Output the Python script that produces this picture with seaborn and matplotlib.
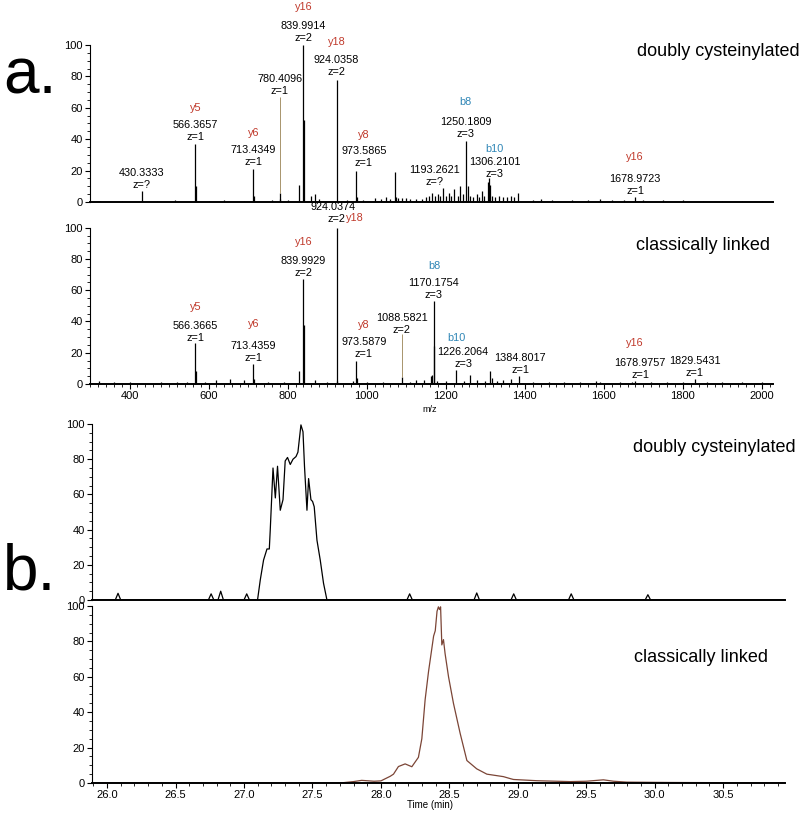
import numpy as np
import matplotlib
matplotlib.use("Agg")
import matplotlib.pyplot as plt
from matplotlib.ticker import MultipleLocator
import seaborn as sns

# ---- spectrum a. top : doubly cysteinylated ----
dc_mz = [325, 380, 430.33, 470, 515, 566.37, 567.4, 600, 640, 690, 713.43, 714.4, 760, 780.41, 781.4,
         800, 828.4, 839.99, 840.99, 858, 870, 880, 924.04, 950, 973.59, 975, 990, 1020, 1035, 1050,
         1060, 1072, 1075, 1080, 1090, 1100, 1110, 1125, 1140, 1150, 1158, 1165, 1172, 1180, 1186,
         1193.26, 1200, 1207, 1214, 1222, 1230, 1236, 1244, 1250.18, 1256, 1262, 1270, 1278, 1285,
         1292, 1298, 1306.21, 1308.5, 1312, 1318, 1325, 1335, 1345, 1355, 1365, 1372, 1384, 1420,
         1440, 1470, 1520, 1560, 1590, 1620, 1650, 1679, 1700, 1750, 1800, 1850, 1900, 1950, 2000]
dc_int = [0.8, 0.6, 7, 0.8, 1.0, 37, 10, 0.7, 1.0, 0.8, 21, 4, 1.0, 6, 2,
          1.5, 11, 100, 52, 3.5, 5, 2, 78, 1.5, 20, 3, 1.5, 2.5, 2, 3,
          2, 19, 3, 2.5, 2.5, 2.5, 2, 2, 2, 3, 4, 6, 4, 5, 3.5,
          9, 4, 6, 4, 8, 3.5, 10, 5, 39, 10, 4, 3, 5, 3,
          7, 4, 13, 15, 11, 4, 3, 3.5, 3, 3, 3.5, 3, 6, 1.5,
          2, 1.5, 1.5, 1.5, 2, 1.2, 1.5, 3, 1, 1, 1, 0.8, 0.8, 0.8, 0.6]

# ---- spectrum a. bottom : classically linked ----
cl_mz = [322, 360, 400, 440, 480, 520, 545, 566.37, 567.4, 590, 620, 655, 690, 713.44, 714.4, 750,
         790, 828.4, 839.99, 840.99, 870, 900, 924.04, 925.04, 965, 973.59, 975, 1000, 1040, 1088.58,
         1110, 1125, 1145, 1162, 1166, 1170.18, 1171.2, 1178, 1200, 1226.21, 1245, 1262, 1280, 1300,
         1312, 1316, 1330, 1345, 1365, 1384.80, 1420, 1460, 1500, 1540, 1580, 1590, 1640, 1670,
         1679, 1720, 1760, 1800, 1829.54, 1860, 1900, 1950, 2000]
cl_int = [2, 1, 1, 0.8, 1.2, 1, 1.5, 26, 8, 1, 2.5, 3.5, 2.5, 13, 3, 1.5,
          1.5, 8, 67, 38, 2.5, 1, 100, 2, 2, 15, 4, 1.5, 1.5, 4.5,
          1.5, 2.5, 2.5, 5, 6, 53, 24, 2, 2, 9, 2, 5.5, 2.5, 2,
          8, 4, 2, 2.5, 3, 5, 1, 1.2, 1, 1, 2, 1.5, 1, 1.5,
          2, 1, 1, 1, 3, 1, 1, 1, 1]

# ---- annotations ----
dc_ann_mass = ['430.3333', '566.3657', '713.4349', '780.4096', '839.9914', '924.0358',
               '973.5865', '1193.2621', '1250.1809', '1306.2101', '1678.9723']
dc_ann_z = ['?', '1', '1', '1', '2', '2', '1', '?', '3', '3', '1']
dc_ann_ion = ['', 'y5', 'y6', '', 'y16', 'y18', 'y8', '', 'b8', 'b10', 'y16']

cl_ann_mass = ['566.3665', '713.4359', '839.9929', '924.0374', '973.5879', '1088.5821',
               '1170.1754', '1226.2064', '1384.8017', '1678.9757', '1829.5431']
cl_ann_z = ['1', '1', '2', '2', '1', '2', '3', '3', '1', '1', '1']
cl_ann_ion = ['y5', 'y6', 'y16', 'y18', 'y8', '', 'b8', 'b10', '', 'y16', '']

# leader lines (label to small peak)
dc_leader = (780.41, 6, 67)
cl_leader = (1088.58, 4.5, 32)

# ---- chromatograms b. ----
t_dc = [25.89, 26.06, 26.08, 26.10, 26.74, 26.76, 26.78, 26.81, 26.83, 26.85, 27.00, 27.02, 27.04,
        27.099, 27.119, 27.143, 27.168, 27.185, 27.192, 27.212, 27.229, 27.245, 27.265, 27.285,
        27.301, 27.318, 27.338, 27.358, 27.380, 27.394, 27.416, 27.431, 27.442, 27.460, 27.472,
        27.489, 27.501, 27.513, 27.533, 27.557, 27.581, 27.606, 28.19, 28.21, 28.23, 28.68, 28.70,
        28.72, 28.95, 28.97, 28.99, 29.37, 29.39, 29.41, 29.93, 29.95, 29.97, 30.95]
i_dc = [0, 0, 3.8, 0, 0, 3.5, 0, 0, 5, 0, 0, 3.5, 0,
        0, 11.4, 22.7, 29, 29, 40, 75, 58, 76, 51, 57,
        79, 81, 77, 80, 81.5, 84, 99.5, 95.6, 76, 51, 69,
        57, 56, 53, 34, 22.7, 9.5, 0, 0, 3.5, 0, 0, 4,
        0, 0, 3.5, 0, 0, 3.5, 0, 0, 3, 0, 0]

t_cl = [25.89, 27.70, 27.80, 27.86, 27.95, 28.00, 28.068, 28.092, 28.128, 28.177, 28.226, 28.274,
        28.299, 28.323, 28.348, 28.385, 28.397, 28.410, 28.420, 28.428, 28.436, 28.445, 28.457,
        28.469, 28.494, 28.53, 28.579, 28.628, 28.70, 28.774, 28.895, 28.944, 28.968, 29.139,
        29.382, 29.50, 29.625, 29.70, 29.796, 30.11, 30.477, 30.95]
i_cl = [0, 0, 0.8, 1.5, 1.0, 1.2, 3.8, 5, 9.3, 10.8, 9.2, 14.5,
        25, 47, 63, 83, 86, 97, 99.5, 98, 99.5, 78, 81,
        73, 60, 45, 28, 12.7, 8, 5, 3.6, 2.5, 2, 1.3,
        0.8, 1.0, 1.8, 1.0, 0.5, 0.3, 0.2, 0.1]

# ---- layout of annotation text (data units) ----
dc_lab_x = [430.33, 566.37, 713.43, 780.41, 839.99, 924.04, 993, 1172, 1250.18, 1324, 1678.97]
dc_lab_y = [18.7, 48.8, 33.1, 78.1, 112.1, 90.4, 32.5, 20.4, 50.7, 25.7, 14.6]
dc_ion_y = [0, 59.7, 44.1, 0, 124.4, 101.7, 42.7, 0, 63.9, 33.6, 28.5]
cl_lab_x = [566.37, 713.44, 839.99, 915, 993, 1088.58, 1170.18, 1244, 1388, 1692, 1829.54]
cl_lab_y = [37.1, 24.5, 78.9, 113, 26.7, 42.4, 64.4, 20.3, 16.4, 13.6, 14.7]
cl_ion_y = [49, 38.4, 91, 106, 37.7, 0, 75.7, 29.2, 0, 26, 0]
cl_ion_x = [566.37, 713.44, 839.99, 971, 993, 0, 1170.18, 1226.21, 0, 1678.98, 0]

RED = '#c0392b'
BLUE = '#2f86b6'
FS = 7.8

sns.set_style("ticks", {'axes.edgecolor': 'black', 'text.color': 'black',
                        'xtick.color': 'black', 'ytick.color': 'black'})
plt.rcParams['font.family'] = ['Liberation Sans', 'DejaVu Sans']

fig = plt.figure(figsize=(8, 8.17), dpi=100)
ax1 = fig.add_axes([0.1125, 0.7528, 0.8538, 0.1921])
ax2 = fig.add_axes([0.1125, 0.530, 0.8538, 0.1913])
ax3 = fig.add_axes([0.115, 0.2656, 0.866, 0.2154])
ax4 = fig.add_axes([0.115, 0.0416, 0.866, 0.2167])

for ax in (ax1, ax2, ax3, ax4):
    sns.despine(ax=ax)
    ax.set_ylim(0, 100)
    ax.yaxis.set_major_locator(MultipleLocator(20))
    ax.yaxis.set_minor_locator(MultipleLocator(5))
    ax.tick_params(axis='both', which='major', labelsize=8, length=3.5, width=0.8, direction='out', pad=1.5)
    ax.tick_params(axis='both', which='minor', length=2, width=0.6, direction='out')
    ax.spines['left'].set_linewidth(0.8)
    ax.spines['bottom'].set_linewidth(1.4)
    ax.patch.set_alpha(0)

# spectra
for ax, mz, inten in ((ax1, dc_mz, dc_int), (ax2, cl_mz, cl_int)):
    ax.vlines(mz, 0, inten, color='black', linewidth=0.9)
    ax.set_xlim(300, 2028)
    ax.xaxis.set_major_locator(MultipleLocator(200))
    ax.xaxis.set_minor_locator(MultipleLocator(20))

ax1.tick_params(axis='x', which='both', bottom=False, labelbottom=False)
ax2.set_xticks([400, 600, 800, 1000, 1200, 1400, 1600, 1800, 2000])

ax1.vlines(dc_leader[0], dc_leader[1], dc_leader[2], color='#a8946c', linewidth=0.7)
ax2.vlines(cl_leader[0], cl_leader[1], cl_leader[2], color='#a8946c', linewidth=0.7)

for i in range(len(dc_ann_mass)):
    x, y = dc_lab_x[i], dc_lab_y[i]
    ax1.text(x, y, dc_ann_mass[i], fontsize=FS, ha='center', va='center', clip_on=False)
    ax1.text(x, y - 7.6, 'z=' + dc_ann_z[i], fontsize=FS, ha='center', va='center', clip_on=False)
    ion = dc_ann_ion[i]
    if ion:
        c = BLUE if ion.startswith('b') else RED
        ax1.text(x, dc_ion_y[i], ion, fontsize=FS, ha='center', va='center', color=c, clip_on=False)

for i in range(len(cl_ann_mass)):
    x, y = cl_lab_x[i], cl_lab_y[i]
    ax2.text(x, y, cl_ann_mass[i], fontsize=FS, ha='center', va='center', clip_on=False)
    zx = 924.04 if cl_ann_mass[i] == '924.0374' else x
    ax2.text(zx, y - 7.6, 'z=' + cl_ann_z[i], fontsize=FS, ha='center', va='center', clip_on=False)
    ion = cl_ann_ion[i]
    if ion:
        c = BLUE if ion.startswith('b') else RED
        ax2.text(cl_ion_x[i], cl_ion_y[i], ion, fontsize=FS, ha='center', va='center', color=c, clip_on=False)

# chromatograms
sns.lineplot(x=t_dc, y=i_dc, ax=ax3, color='black', linewidth=0.9, estimator=None)
sns.lineplot(x=t_cl, y=i_cl, ax=ax4, color='#7b4536', linewidth=0.9, estimator=None)
for ax in (ax3, ax4):
    ax.set_xlim(25.89, 30.95)
    ax.xaxis.set_major_locator(MultipleLocator(0.5))
    ax.xaxis.set_minor_locator(MultipleLocator(0.1))
ax3.tick_params(axis='x', which='both', bottom=False, labelbottom=False)
ax4.xaxis.set_major_formatter(matplotlib.ticker.FormatStrFormatter('%.1f'))

# texts
fig.text(0.999, 1 - 52 / 817, 'doubly cysteinylated', fontsize=13, ha='right', va='center')
fig.text(0.9625, 1 - 245 / 817, 'classically linked', fontsize=13, ha='right', va='center')
fig.text(0.995, 1 - 448 / 817, 'doubly cysteinylated', fontsize=13, ha='right', va='center')
fig.text(0.96, 1 - 658 / 817, 'classically linked', fontsize=13, ha='right', va='center')
fig.text(430 / 800, 1 - 410 / 817, 'm/z', fontsize=6.5, ha='center', va='center')
fig.text(430 / 800, 1 - 805 / 817, 'Time (min)', fontsize=7, ha='center', va='center')
fig.text(0.004, 1 - 93 / 817, 'a.', fontsize=46, ha='left', va='baseline')
fig.text(0.004, 1 - 590 / 817, 'b.', fontsize=46, ha='left', va='baseline')

fig.savefig('out.png', dpi=100)
